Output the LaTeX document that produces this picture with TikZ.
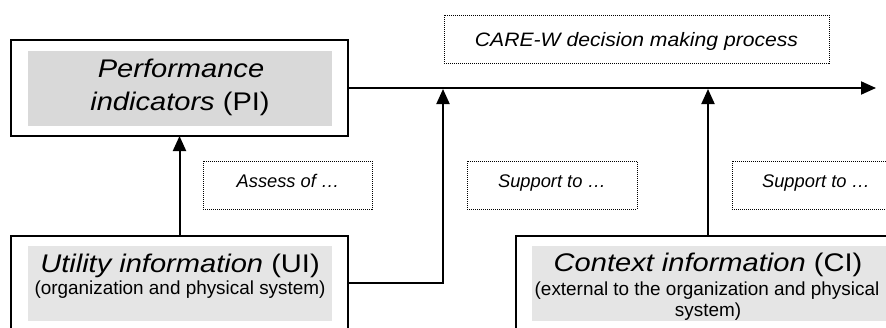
\documentclass[tikz,border=0pt]{standalone}
\usepackage{fontspec}
\setmainfont{Liberation Sans}
\newfontfamily\bigf[FakeStretch=1.14]{Liberation Sans}
\newfontfamily\medf[FakeStretch=1.09]{Liberation Sans}
\usetikzlibrary{arrows.meta}
\tikzset{
  outerbox/.style={draw=black, line width=2pt, fill=white, inner sep=0pt, outer sep=0pt},
  graybox/.style={fill=#1, draw=none, inner sep=0pt, outer sep=0pt},
  dotbox/.style={draw=black, line width=1pt, dash pattern=on 1pt off 1pt, inner sep=0pt, outer sep=0pt},
  bigtxt/.style={anchor=base, inner sep=0pt, font=\bigf\fontsize{25.5}{30}\selectfont},
  smalltxt/.style={anchor=base, inner sep=0pt, font=\fontsize{18.9}{22}\selectfont},
  medtxt/.style={anchor=base, inner sep=0pt, font=\medf\itshape\fontsize{19.4}{23}\selectfont},
  labtxt/.style={anchor=base, inner sep=0pt, font=\itshape\fontsize{18.3}{21}\selectfont},
  conn/.style={line width=2pt, -{Triangle[length=15pt,width=13pt]}}
}
\begin{document}
\begin{tikzpicture}[x=1pt,y=-1pt]
\useasboundingbox (0,0) rectangle (886,327);
\clip (0,0) rectangle (886,327);

% Performance indicators
\node[outerbox, minimum width=337pt, minimum height=96pt] (PI) at (179.5,88) {};
\node[graybox=black!15, minimum width=304pt, minimum height=75pt] (PIg) at (180,88.5) {};
\node[bigtxt] (PI1) at (181,77.3) {\itshape Performance};
\node[bigtxt] (PI2) at (180,110) {\textit{indicators} (PI)};

% Utility information
\node[outerbox, minimum width=337pt, minimum height=94pt] (UI) at (179.5,283) {};
\node[graybox=black!10, minimum width=304pt, minimum height=75pt] (UIg) at (180,283.5) {};
\node[bigtxt] (UI1) at (180,272.5) {\textit{Utility information} (UI)};
\node[smalltxt] (UI2) at (180,294) {(organization and physical system)};

% Context information
\node[outerbox, minimum width=404pt, minimum height=94pt] (CI) at (718,283) {};
\node[graybox=black!10, minimum width=368pt, minimum height=75pt] (CIg) at (716,283.5) {};
\node[bigtxt] (CI1) at (708,271) {\textit{Context information} (CI)};
\node[smalltxt] (CI2) at (707,295) {(external to the organization and physical};
\node[smalltxt] (CI3) at (708,316) {system)};

% dotted labels
\node[dotbox, minimum width=385pt, minimum height=48pt] (CW) at (636.5,39) {};
\node[medtxt] (CWt) at (636.5,46.5) {CARE-W decision making process};
\node[dotbox, minimum width=169pt, minimum height=48pt] (AS) at (287.5,185) {};
\node[labtxt] (ASt) at (288,187.5) {Assess of …};
\node[dotbox, minimum width=170pt, minimum height=48pt] (S1) at (552,185) {};
\node[labtxt] (S1t) at (552,187.5) {Support to …};
\node[dotbox, minimum width=168pt, minimum height=48pt] (S2) at (816,185) {};
\node[labtxt] (S2t) at (816,187.5) {Support to …};

% connectors
\coordinate (END) at (876,88);
\coordinate (J1) at (443,89);
\coordinate (J2) at (708,89);
\draw[conn] (PI.east) -- (END);
\draw[conn] (UI.north) -- (PI.south);
\draw[conn] (UI.east) -| (J1);
\draw[conn] (J2 |- CI.north) -- (J2);
\end{tikzpicture}
\end{document}
